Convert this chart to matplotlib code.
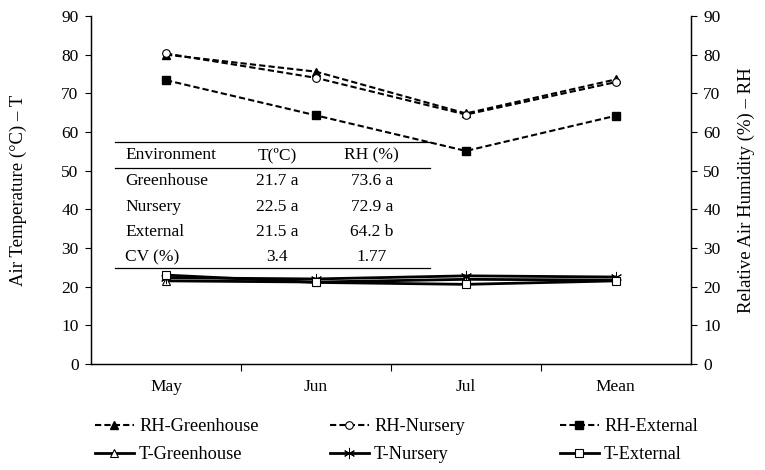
import matplotlib
matplotlib.use("Agg")
import matplotlib.pyplot as plt

plt.rcParams['font.family'] = ['Liberation Serif', 'DejaVu Serif']

months = ["May", "Jun", "Jul", "Mean"]

rh_greenhouse = [80.0, 75.6, 64.8, 73.6]
rh_nursery = [80.3, 74.0, 64.5, 72.9]
rh_external = [73.4, 64.3, 55.1, 64.2]

t_greenhouse = [21.5, 21.2, 21.9, 21.7]
t_nursery = [22.3, 22.0, 22.8, 22.5]
t_external = [23.0, 21.1, 20.6, 21.5]

table_header = ["Environment", "T(ºC)", "RH (%)"]
table_rows = [
    ["Greenhouse", "21.7 a", "73.6 a"],
    ["Nursery", "22.5 a", "72.9 a"],
    ["External", "21.5 a", "64.2 b"],
    ["CV (%)", "3.4", "1.77"],
]

fig = plt.figure(figsize=(7.65, 4.7), dpi=100)
ax = fig.add_axes([0.119, 0.2255, 0.784, 0.7405])
ax2 = ax.twinx()

x = list(range(len(months)))
fs = 12.5

# temperature lines (left axis)
t1, = ax.plot(x, t_greenhouse, '-', color='black', lw=2, marker='^', ms=6,
              mfc='white', mec='black', mew=0.8, label='T-Greenhouse', zorder=3)
t2, = ax.plot(x, t_nursery, '-', color='black', lw=2, marker=(6, 2, 0), ms=8,
              mec='black', mew=0.7, label='T-Nursery', zorder=3)
t3, = ax.plot(x, t_external, '-', color='black', lw=2, marker='s', ms=5.5,
              mfc='white', mec='black', mew=0.8, label='T-External', zorder=3)

# humidity lines (right axis)
dash = (3, 1.5)
l1, = ax2.plot(x, rh_greenhouse, '--', dashes=dash, color='black', lw=1.5,
               marker='^', ms=6, mfc='black', mec='black', label='RH-Greenhouse')
l2, = ax2.plot(x, rh_nursery, '--', dashes=dash, color='black', lw=1.5,
               marker='o', ms=5.5, mfc='white', mec='black', mew=0.8,
               label='RH-Nursery')
l3, = ax2.plot(x, rh_external, '--', dashes=dash, color='black', lw=1.5,
               marker='s', ms=5.5, mfc='black', mec='black', label='RH-External')

for a in (ax, ax2):
    a.set_ylim(0, 90)
    a.set_yticks(range(0, 91, 10))
    a.set_xlim(-0.5, len(months) - 0.5)
    a.spines['top'].set_visible(False)
    a.tick_params(axis='y', labelsize=fs, length=4, width=0.8,
                  direction='out', pad=5)
    for s in a.spines.values():
        s.set_linewidth(0.9)

ax.set_xticks(x)
ax.set_xticklabels(months, fontsize=fs)
ax.set_xticks([i + 0.5 for i in x[:-1]], minor=True)
ax.tick_params(axis='x', which='major', length=0, pad=11)
ax.tick_params(axis='x', which='minor', length=5, width=0.8, direction='out')

ax.set_ylabel("Air Temperature (°C) – T", fontsize=fs + 1)
ax2.set_ylabel("Relative Air Humidity (%) – RH", fontsize=fs + 1)
ax.yaxis.set_label_coords(-0.107, 0.5)
ax2.yaxis.set_label_coords(1.078, 0.5)

# inset table of means
tr = ax.transAxes
for ly in (0.638, 0.563, 0.276):
    ax.plot([0.04, 0.565], [ly, ly], color='black', lw=0.9, transform=tr, zorder=4)
col_x = [0.057, 0.31, 0.468]
col_ha = ['left', 'center', 'center']
for cx, ha, txt in zip(col_x, col_ha, table_header):
    ax.text(cx, 0.600, txt, transform=tr, ha=ha, va='center', fontsize=fs)
row_y = [0.526, 0.451, 0.379, 0.307]
for ry, row in zip(row_y, table_rows):
    for cx, ha, txt in zip(col_x, col_ha, row):
        ax.text(cx, ry, txt, transform=tr, ha=ha, va='center', fontsize=fs)

# legend below the plot: one two-row block per environment
for lx, pair in zip([95, 330, 560], [(l1, t1), (l2, t2), (l3, t3)]):
    fig.legend(pair, [p.get_label() for p in pair], loc='lower left',
               bbox_to_anchor=(lx / 765, 0.014), frameon=False, fontsize=13.2,
               handlelength=2.1, handletextpad=0.3, labelspacing=0.6,
               borderpad=0, borderaxespad=0)

fig.savefig("out.png", dpi=100)
